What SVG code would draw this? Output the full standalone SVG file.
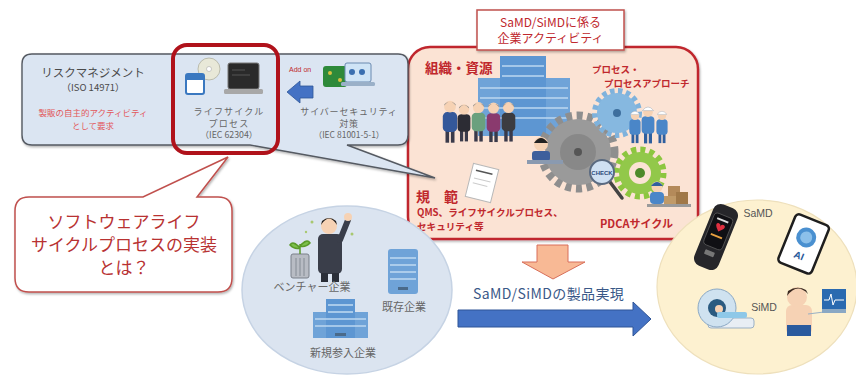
<svg xmlns="http://www.w3.org/2000/svg" xmlns:xlink="http://www.w3.org/1999/xlink" width="856" height="376" viewBox="0 0 856 376">
  <style>
    .jp { font-family: "Noto Sans CJK JP", "Noto Sans", "Liberation Sans", sans-serif; }
    .gray { fill: #4a4a4a; }
    .mid { fill: #666666; }
    .red { fill: #c0282d; }
    .redb { fill: #c0282d; font-weight: bold; }
    .pink { fill: #e2585a; }
    .stripe { stroke: #bcd7f0; stroke-width: 1.6; }
  </style>
  <defs>
    <filter id="shadow" x="-10%" y="-10%" width="120%" height="130%">
      <feDropShadow dx="1" dy="1.5" stdDeviation="1" flood-color="#000" flood-opacity="0.3"/>
    </filter>
    <!-- generic standing figure; body colour comes from the 'color' of the <use> -->
    <symbol id="person" viewBox="0 0 20 50">
      <rect x="5" y="33" width="4" height="15" fill="#3a3a4a"/>
      <rect x="11" y="33" width="4" height="15" fill="#3a3a4a"/>
      <rect x="2" y="14" width="16" height="22" rx="5" fill="currentColor"/>
      <circle cx="10" cy="8" r="6.5" fill="#f6d2b4"/>
      <path d="M3.5 7 Q10 -2 16.5 7 L16 5 Q10 0 4 5 Z" fill="#8a8a8a"/>
    </symbol>
    <symbol id="worker" viewBox="0 0 20 50">
      <rect x="5" y="33" width="4" height="15" fill="#2f5f9e"/>
      <rect x="11" y="33" width="4" height="15" fill="#2f5f9e"/>
      <rect x="2" y="14" width="16" height="22" rx="5" fill="#4a86c8"/>
      <circle cx="10" cy="9" r="6" fill="#f6d2b4"/>
      <path d="M3 7 Q10 -2 17 7 Z" fill="#ffffff" stroke="#9ab" stroke-width="0.6"/>
    </symbol>
  </defs>

  <rect width="856" height="376" fill="#ffffff"/>

  <!-- company activities (red frame) -->
  <g id="activities">
    <rect x="408" y="47" width="290" height="192" rx="22" fill="#fbe3d4" stroke="#c0282d" stroke-width="2.5" filter="url(#shadow)"/>
    <!-- office building -->
    <g>
      <rect x="478" y="78" width="92" height="58" fill="#6fa3d8"/>
      <rect x="500" y="56" width="46" height="80" fill="#5d96d2"/>
      <g class="stripe">
        <line x1="480" y1="88" x2="568" y2="88"/>
        <line x1="480" y1="98" x2="568" y2="98"/>
        <line x1="480" y1="108" x2="568" y2="108"/>
        <line x1="480" y1="118" x2="568" y2="118"/>
        <line x1="502" y1="66" x2="544" y2="66"/>
        <line x1="502" y1="76" x2="544" y2="76"/>
      </g>
    </g>
    <!-- staff -->
    <use href="#person" x="441" y="98" width="18" height="48" style="color:#34589a"/>
    <use href="#person" x="456" y="100" width="16" height="46" style="color:#2c2c34"/>
    <use href="#person" x="470" y="98" width="17" height="48" style="color:#6aa07e"/>
    <use href="#person" x="485" y="99" width="17" height="47" style="color:#8a3a6e"/>
    <use href="#person" x="500" y="98" width="17" height="48" style="color:#3c3c40"/>
    <!-- gears -->
    <g>
      <circle cx="578" cy="152" r="36" fill="none" stroke="#8e8e8e" stroke-width="9" stroke-dasharray="6 4.5"/>
      <circle cx="578" cy="152" r="33" fill="#9a9a9a"/>
      <circle cx="578" cy="152" r="18" fill="#888888"/>
      <circle cx="578" cy="152" r="4" fill="#555555"/>
    </g>
    <g>
      <circle cx="617" cy="113" r="22" fill="none" stroke="#7fb2dc" stroke-width="6" stroke-dasharray="4.5 3.5"/>
      <circle cx="617" cy="113" r="20" fill="#86b8e0"/>
      <circle cx="617" cy="113" r="4" fill="#3e6f9e"/>
    </g>
    <g>
      <circle cx="640" cy="173" r="23" fill="none" stroke="#8cc63f" stroke-width="7" stroke-dasharray="5 4"/>
      <circle cx="640" cy="173" r="21" fill="#92c84a"/>
      <circle cx="640" cy="173" r="11" fill="#fbe3d4"/>
      <circle cx="640" cy="173" r="5" fill="#4e8a2a"/>
    </g>
    <!-- process workers -->
    <use href="#worker" x="628" y="108" width="14" height="38"/>
    <use href="#worker" x="640" y="104" width="16" height="42"/>
    <use href="#worker" x="655" y="108" width="14" height="38"/>
    <!-- person at desk -->
    <g>
      <circle cx="541" cy="144" r="7" fill="#f6d2b4"/>
      <path d="M534 143 Q541 133 548 143 Z" fill="#222"/>
      <rect x="532" y="151" width="18" height="10" rx="3" fill="#3e5f9c"/>
      <rect x="527" y="160" width="36" height="4" fill="#8a9ab0"/>
    </g>
    <!-- CHECK magnifier -->
    <g>
      <line x1="610" y1="182" x2="622" y2="198" stroke="#444" stroke-width="3.5" stroke-linecap="round"/>
      <circle cx="602" cy="172" r="12" fill="#cfe0f2" stroke="#5a6a80" stroke-width="2"/>
      <text x="602" y="174.5" font-size="6" font-weight="bold" text-anchor="middle" fill="#2c4a7a" font-family="Liberation Sans, sans-serif">CHECK</text>
    </g>
    <!-- worker with boxes -->
    <g>
      <rect x="668" y="186" width="12" height="10" fill="#b48a5a"/>
      <rect x="676" y="192" width="12" height="12" fill="#a07848"/>
      <rect x="664" y="196" width="12" height="9" fill="#c09a68"/>
      <circle cx="657" cy="187" r="5.5" fill="#f6d2b4"/>
      <path d="M651 186 Q657 178 663 186 Z" fill="#2f5f9e"/>
      <rect x="650" y="192" width="14" height="12" rx="4" fill="#4a86c8"/>
      <rect x="647" y="204" width="44" height="3" fill="#9a9a9a"/>
    </g>
    <!-- rule document -->
    <g transform="rotate(14 482 183)">
      <rect x="469" y="166" width="26" height="34" fill="#ffffff" stroke="#b8b8b8" stroke-width="1"/>
      <line x1="473" y1="172" x2="490" y2="172" stroke="#555" stroke-width="1.5"/>
      <line x1="473" y1="180" x2="490" y2="180" stroke="#ccc" stroke-width="1"/>
      <line x1="473" y1="185" x2="488" y2="185" stroke="#ccc" stroke-width="1"/>
    </g>
    <!-- labels -->
    <text class="jp redb" x="425" y="73" font-size="13.5">組織・資源</text>
    <text class="jp redb" x="592" y="73" font-size="9.5">プロセス・</text>
    <text class="jp redb" x="604" y="87" font-size="9.5">プロセスアプローチ</text>
    <text class="jp redb" x="416" y="202" font-size="14">規　範</text>
    <text class="jp redb" x="417" y="216" font-size="9.6">QMS、ライフサイクルプロセス、</text>
    <text class="jp redb" x="417" y="230" font-size="9.6">セキュリティ等</text>
    <text class="jp redb" x="600" y="228" font-size="11">PDCAサイクル</text>
  </g>

  <!-- activity title -->
  <g id="activity-title">
    <rect x="477" y="10" width="147" height="40" fill="#ffffff" stroke="#c0504d" stroke-width="1.5" filter="url(#shadow)"/>
    <text class="jp red" x="550.5" y="27" font-size="12" text-anchor="middle">SaMD/SiMDに係る</text>
    <text class="jp red" x="550.5" y="43" font-size="12" text-anchor="middle">企業アクティビティ</text>
  </g>

  <!-- standards panel with tail pointing at the rules -->
  <g id="standards">
    <path d="M32 54 L398 54 Q408 54 408 64 L408 135 Q408 145 398 145 L347 145 L435 178 L250 145 L32 145 Q22 145 22 135 L22 64 Q22 54 32 54 Z" fill="#dbe5f2" stroke="#555a62" stroke-width="1.4" filter="url(#shadow)"/>
    <text class="jp gray" x="93" y="77" font-size="11.5" text-anchor="middle">リスクマネジメント</text>
    <text class="jp gray" x="93" y="91" font-size="9.5" text-anchor="middle">（ISO 14971）</text>
    <text class="jp pink" x="93" y="116" font-size="8.5" text-anchor="middle">製販の自主的アクティビティ</text>
    <text class="jp pink" x="93" y="129" font-size="8.5" text-anchor="middle">として要求</text>
  </g>

  <!-- life-cycle process -->
  <g id="lifecycle">
    <!-- CD and floppy -->
    <circle cx="209" cy="69" r="11" fill="#e8e8d8" stroke="#b0b0a0" stroke-width="0.8"/>
    <circle cx="209" cy="69" r="2.5" fill="#ffffff" stroke="#aaa" stroke-width="0.6"/>
    <rect x="186" y="74" width="18" height="20" rx="2" fill="#ffffff" stroke="#3a78c0" stroke-width="2"/>
    <rect x="186" y="74" width="18" height="6" fill="#3a78c0"/>
    <!-- laptop -->
    <rect x="228" y="63" width="31" height="26" rx="2" fill="#2a2a2a" stroke="#777" stroke-width="1"/>
    <line x1="232" y1="70" x2="245" y2="70" stroke="#555" stroke-width="1"/>
    <line x1="232" y1="75" x2="250" y2="75" stroke="#555" stroke-width="1"/>
    <rect x="224" y="89" width="39" height="5" rx="1.5" fill="#a8a8a8"/>
    <text class="jp mid" x="229" y="115" font-size="9" letter-spacing="1.2" text-anchor="middle">ライフサイクル</text>
    <text class="jp mid" x="229" y="126.5" font-size="9" letter-spacing="1.2" text-anchor="middle">プロセス</text>
    <text class="jp mid" x="229" y="138" font-size="8.8" text-anchor="middle">（IEC 62304）</text>
    <rect x="173" y="45" width="105" height="108" rx="14" fill="none" stroke="#b0121b" stroke-width="4"/>
  </g>

  <!-- cyber security -->
  <g id="cybersecurity">
    <rect x="323" y="66" width="24" height="21" rx="3" fill="#2e8a3a"/>
    <circle cx="330" cy="73" r="2" fill="#d8c040"/>
    <circle cx="340" cy="80" r="2" fill="#d8c040"/>
    <rect x="345" y="63" width="26" height="19" rx="2" fill="#cfe4f6" stroke="#6a8ab0" stroke-width="1"/>
    <rect x="341" y="82" width="34" height="4" rx="1.5" fill="#9ab0c8"/>
    <circle cx="352" cy="72" r="3" fill="#3a6fb0"/>
    <circle cx="362" cy="72" r="3" fill="#3a6fb0"/>
    <text class="jp mid" x="349" y="115" font-size="9" letter-spacing="0.8" text-anchor="middle">サイバーセキュリティ</text>
    <text class="jp mid" x="349" y="126.5" font-size="9" letter-spacing="0.8" text-anchor="middle">対策</text>
    <text class="jp mid" x="349" y="138" font-size="8.5" text-anchor="middle">（IEC 81001-5-1）</text>
  </g>

  <!-- connectors -->
  <g id="connectors">
    <text x="289" y="72" font-size="7" fill="#c0282d" font-family="Liberation Sans, sans-serif">Add on</text>
    <polygon points="287,92 300,81 300,86 313,86 313,98 300,98 300,103" fill="#4472c4" stroke="#2f5597" stroke-width="0.8"/>
    <polygon points="537,245 568,245 568,262 585,262 553,279 522,262 537,262" fill="#f8b995" stroke="#d86f5a" stroke-width="1"/>
    <polygon points="458,310 633,310 633,302 651,319 633,336 633,327 458,327" fill="#4472c4" stroke="#2f5597" stroke-width="1"/>
    <text class="jp" x="473" y="299" font-size="14" letter-spacing="0.4" fill="#3a5888">SaMD/SiMDの製品実現</text>
  </g>

  <!-- question bubble -->
  <g id="question">
    <path d="M29 197 L143 197 L228 157 L197 197 L218 197 Q232 197 232 211 L232 278 Q232 292 218 292 L29 292 Q15 292 15 278 L15 211 Q15 197 29 197 Z" fill="#ffffff" stroke="#c0504d" stroke-width="1.5" filter="url(#shadow)"/>
    <text class="jp" x="124" y="228" font-size="17" text-anchor="middle" fill="#b83232">ソフトウェアライフ</text>
    <text class="jp" x="124" y="251" font-size="17" text-anchor="middle" fill="#b83232">サイクルプロセスの実装</text>
    <text class="jp" x="124" y="274" font-size="17" text-anchor="middle" fill="#b83232">とは？</text>
  </g>

  <!-- companies -->
  <g id="companies">
    <ellipse cx="347" cy="290" rx="105" ry="84" fill="#dbe4f0" stroke="#c6d3e4" stroke-width="1.5"/>
    <!-- venture: sprout in a bin and a cheering man -->
    <rect x="291" y="254" width="18" height="24" rx="2" fill="#b8bcc4" stroke="#7a808a" stroke-width="1"/>
    <line x1="296" y1="258" x2="296" y2="276" stroke="#7a808a" stroke-width="0.8"/>
    <line x1="300" y1="258" x2="300" y2="276" stroke="#7a808a" stroke-width="0.8"/>
    <line x1="304" y1="258" x2="304" y2="276" stroke="#7a808a" stroke-width="0.8"/>
    <path d="M300 254 L300 244 M300 248 Q293 240 290 245 Q295 250 300 248 M300 246 Q307 238 310 243 Q305 248 300 246" stroke="#5a9a2a" stroke-width="1.5" fill="#7cc04a"/>
    <rect x="318" y="234" width="24" height="40" rx="5" fill="#3a3e4a"/>
    <rect x="321" y="273" width="7" height="9" fill="#2a2e38"/>
    <rect x="332" y="273" width="7" height="9" fill="#2a2e38"/>
    <path d="M340 240 L348 220" stroke="#3a3e4a" stroke-width="6" stroke-linecap="round"/>
    <circle cx="348" cy="217" r="4" fill="#f6d2b4"/>
    <circle cx="329" cy="226" r="8" fill="#f6d2b4"/>
    <path d="M321 225 Q329 212 337 225 L336 221 Q329 215 322 221 Z" fill="#1e1e1e"/>
    <circle cx="312" cy="222" r="1.5" fill="#a8c870"/>
    <circle cx="352" cy="234" r="1.5" fill="#a8c870"/>
    <circle cx="306" cy="232" r="1.2" fill="#a8c870"/>
    <!-- established company -->
    <rect x="388" y="249" width="30" height="45" rx="3" fill="#6fa3d8"/>
    <g class="stripe">
      <line x1="390" y1="258" x2="416" y2="258"/>
      <line x1="390" y1="265" x2="416" y2="265"/>
      <line x1="390" y1="272" x2="416" y2="272"/>
      <line x1="390" y1="279" x2="416" y2="279"/>
    </g>
    <rect x="398" y="287" width="10" height="3" fill="#4a6a8a"/>
    <!-- new entrant -->
    <rect x="313" y="312" width="55" height="26" fill="#6fa3d8"/>
    <rect x="326" y="299" width="29" height="39" fill="#5d96d2"/>
    <g class="stripe">
      <line x1="315" y1="319" x2="366" y2="319"/>
      <line x1="315" y1="326" x2="366" y2="326"/>
      <line x1="328" y1="305" x2="353" y2="305"/>
      <line x1="328" y1="312" x2="353" y2="312"/>
    </g>
    <rect x="335" y="333" width="11" height="3" fill="#4a6a8a"/>
    <text class="jp mid" x="312" y="291" font-size="11" text-anchor="middle">ベンチャー企業</text>
    <text class="jp mid" x="404" y="311" font-size="11" text-anchor="middle">既存企業</text>
    <text class="jp mid" x="343" y="357" font-size="11" text-anchor="middle">新規参入企業</text>
  </g>

  <!-- products -->
  <g id="products">
    <ellipse cx="757" cy="287" rx="100" ry="87" fill="#fdf1d0" stroke="#eee0bc" stroke-width="1.2"/>
    <!-- smart band -->
    <g transform="rotate(22 716 237)">
      <rect x="703" y="204" width="26" height="66" rx="8" fill="#26262a"/>
      <rect x="706" y="214" width="20" height="34" rx="4" fill="#101014" stroke="#555" stroke-width="0.8"/>
      <path d="M713 228 q-3 -4 0 -5 q3 0 3 3 q0 -3 3 -3 q3 1 0 5 l-3 3 z" fill="#e03040"/>
      <rect x="710" y="235" width="12" height="2" fill="#e8a040"/>
      <rect x="710" y="218" width="12" height="2" fill="#dddddd"/>
      <rect x="711" y="252" width="10" height="5" rx="1" fill="#777"/>
    </g>
    <!-- AI tablet -->
    <g transform="rotate(22 804 243)">
      <rect x="786" y="218" width="36" height="52" rx="4" fill="#ffffff" stroke="#1e1e1e" stroke-width="2.5"/>
      <circle cx="804" cy="237" r="10" fill="#4a90d0"/>
      <circle cx="804" cy="237" r="6" fill="#8cc0ea"/>
      <text x="804" y="260" font-size="10" font-weight="bold" text-anchor="middle" fill="#2a5a9a" font-family="Liberation Sans, sans-serif">AI</text>
    </g>
    <!-- MRI scanner -->
    <g>
      <rect x="708" y="318" width="46" height="10" rx="3" fill="#e8eef4" stroke="#9ab0c4" stroke-width="1"/>
      <circle cx="717" cy="308" r="19" fill="#cfe2f0" stroke="#8aa8c4" stroke-width="1"/>
      <circle cx="717" cy="308" r="9" fill="#2a5a80"/>
      <circle cx="719" cy="309" r="4" fill="#f6d2b4"/>
      <rect x="717" y="312" width="30" height="6" rx="2" fill="#8ec8e8"/>
    </g>
    <!-- patient with monitor -->
    <g>
      <rect x="786" y="305" width="26" height="30" rx="6" fill="#f6d2b4"/>
      <rect x="787" y="325" width="24" height="11" fill="#2a5a9e"/>
      <circle cx="797" cy="297" r="10" fill="#f6d2b4"/>
      <path d="M787 296 Q797 282 808 294 L806 290 Q797 285 788 291 Z" fill="#3a2a20"/>
      <line x1="808" y1="314" x2="824" y2="312" stroke="#9ab0c4" stroke-width="1.2"/>
      <rect x="822" y="289" width="24" height="20" fill="#2a6ab0"/>
      <polyline points="824,300 829,300 831,294 833,305 835,300 844,300" fill="none" stroke="#ffffff" stroke-width="1"/>
      <rect x="822" y="309" width="24" height="4" fill="#8aa8c4"/>
    </g>
    <text x="758" y="217" font-size="10.5" text-anchor="middle" fill="#555" font-family="Liberation Sans, sans-serif">SaMD</text>
    <text x="764" y="311" font-size="10.5" text-anchor="middle" fill="#555" font-family="Liberation Sans, sans-serif">SiMD</text>
  </g>
</svg>
